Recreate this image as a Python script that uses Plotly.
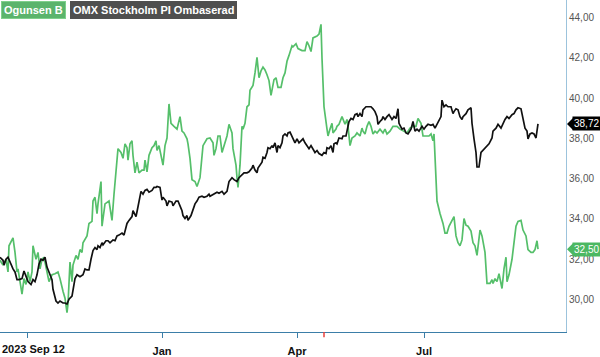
import plotly.graph_objects as go

# time index (session units) and closing values
day_green = [0,3,6,8,9,13,15,17,18,20,22,24,26,28,30,32,33,36,38,40,42,44,47,49,52,55,58,60,63,65,67,68,70,72,73,76,78,80,82,83,87,89,92,93,95,97,98,101,102,105,109,112,114,116,118,121,123,125,127,128,130,132,133,135,137,139,142,144,145,147,149,152,154,156,157,159,162,163,165,167,169,171,174,177,180,182,184,187,188,190,192,195,197,200,203,207,210,213,214,216,218,220,222,225,227,229,232,233,236,237,238,240,242,243,245,247,249,250,252,253,255,257,259,261,263,265,267,269,271,272,274,276,278,281,283,285,287,289,292,293,296,298,302,305,307,309,311,313,315,317,319,321,322,324,327,328,330,332,333,336,337,339,342,343,345,347,348,350,352,355,357,360,362,363,365,367,369,371,373,375,377,380,383,385,387,390,393,395,397,400,403,407,410,413,416,418,421,423,426,429,431,433,434,436,437,440,443,445,447,449,452,454,456,458,460,462,464,466,468,471,473,475,477,478,480,482,485,487,490,492,493,495,497,499,501,502,504,506,507,509,512,514,516,518,521,523,526,528,531,533,535,537,538]
ogunsen = [31.95,31.71,32.00,31.37,32.67,33.06,32.34,31.37,31.52,30.89,30.27,31.04,30.75,31.37,30.89,31.37,32.67,32.00,32.34,31.52,32.00,32.10,31.37,30.89,31.23,31.28,31.37,31.04,30.41,30.07,29.35,29.78,31.86,30.89,31.71,32.19,32.00,32.48,32.34,32.82,33.16,33.78,33.88,34.89,35.08,34.27,34.75,35.86,33.64,34.75,34.89,33.93,35.23,36.53,37.49,37.30,37.01,37.73,37.54,36.92,37.73,37.88,37.16,36.29,36.82,36.29,36.43,36.43,36.92,36.34,37.16,37.54,37.64,37.88,37.40,37.64,37.01,36.67,37.64,38.02,39.71,38.75,38.60,38.46,39.08,38.36,38.27,37.98,37.73,37.01,35.95,35.86,35.61,36.05,37.64,37.98,38.02,37.78,37.16,37.49,38.12,38.12,37.30,37.78,38.12,38.70,38.27,37.49,36.67,36.05,35.57,36.67,38.60,38.46,38.75,39.57,39.66,40.39,40.53,40.63,41.25,42.02,41.01,41.35,41.54,41.40,41.16,40.87,40.14,40.39,40.92,41.01,40.53,40.53,41.01,41.25,41.83,42.12,42.60,42.55,42.70,42.46,42.36,42.36,42.80,42.60,42.31,42.99,43.04,43.08,43.18,43.66,41.98,39.57,38.46,38.12,38.46,38.75,38.27,38.46,38.60,38.70,39.08,38.94,38.70,38.94,38.60,37.64,38.02,38.12,38.27,38.12,38.51,38.36,38.22,38.60,38.84,38.60,38.22,38.36,38.27,38.46,38.27,38.46,38.22,38.36,38.60,38.60,38.60,38.46,38.36,38.27,38.51,38.60,38.60,38.99,38.75,38.12,38.12,38.12,38.22,37.88,38.22,36.19,34.89,34.27,33.78,33.30,33.30,33.64,33.93,34.12,33.16,32.82,32.67,32.96,34.02,33.69,33.64,33.40,32.82,32.67,32.19,32.67,33.45,33.16,32.34,30.80,30.80,30.99,30.80,31.04,30.89,31.28,30.80,30.55,31.52,32.10,30.89,31.23,32.00,32.82,33.64,33.88,33.93,33.45,33.16,32.48,32.34,32.34,32.48,32.92,32.50]

day_black = [0,3,4,6,8,10,13,15,17,19,22,24,26,28,31,33,35,37,39,41,43,45,47,49,52,53,56,58,60,63,65,67,69,72,75,77,80,83,85,87,89,91,93,95,97,98,100,102,103,106,108,110,113,115,117,119,122,124,127,129,132,133,136,137,139,141,143,145,147,149,152,154,156,157,160,162,163,166,167,169,172,173,176,178,180,182,183,185,187,188,191,193,195,197,199,202,204,207,209,210,213,217,219,222,224,227,229,232,234,237,239,242,244,247,249,252,253,255,257,258,260,262,263,265,267,268,270,272,273,275,277,278,280,282,283,285,287,288,290,292,293,295,297,299,301,303,305,307,309,311,313,315,317,319,322,324,326,327,329,331,333,334,336,337,339,342,343,346,347,349,351,353,355,357,358,360,362,363,366,368,371,373,375,377,378,380,382,383,385,387,389,392,394,396,398,399,402,404,406,408,411,413,415,417,419,422,424,426,428,431,433,435,437,438,441,442,444,446,448,451,453,454,456,458,460,462,463,466,468,471,472,474,476,477,479,481,483,485,487,489,492,493,496,498,501,503,505,507,509,512,514,516,518,521,523,525,527,528,530,532,534,536,538]
omx = [32.10,31.95,31.71,32.00,32.10,31.86,31.52,31.37,30.99,30.99,31.04,31.42,31.13,30.89,30.75,30.99,30.89,31.23,31.76,32.00,31.95,32.10,31.61,31.37,30.99,30.51,29.93,29.83,29.93,29.83,29.83,29.78,30.02,30.17,31.04,31.23,31.13,31.23,31.52,31.47,31.47,32.00,32.43,32.58,32.48,32.67,32.58,32.82,32.72,32.92,32.92,32.82,32.96,32.92,33.16,33.20,33.30,33.20,33.78,33.93,34.12,34.41,34.12,34.36,34.89,35.37,35.23,35.42,35.47,35.33,35.42,35.57,35.57,35.61,35.57,34.94,35.08,34.89,34.65,34.89,34.84,34.65,34.89,34.89,34.65,34.41,34.17,34.02,34.17,33.93,34.17,34.51,34.75,34.89,35.08,35.13,35.08,35.13,35.23,35.13,35.23,35.33,35.28,35.37,35.23,35.37,35.86,36.05,35.95,35.86,36.05,36.19,36.29,36.29,36.34,36.53,36.67,36.43,36.29,36.53,36.67,36.82,37.06,37.01,37.30,37.54,37.49,37.64,37.54,37.78,37.30,37.64,37.54,37.78,38.12,38.22,38.12,38.27,38.31,38.12,37.98,37.78,37.98,37.78,37.88,37.98,37.78,37.64,37.49,37.64,37.49,37.30,37.40,37.25,37.16,37.30,37.25,37.54,37.49,37.64,37.30,37.73,37.78,37.73,38.02,37.98,38.12,38.12,38.36,38.84,38.99,38.94,39.18,39.23,39.08,39.23,39.08,39.42,39.57,39.57,39.57,39.47,39.33,39.08,38.70,38.84,38.94,39.08,38.94,39.08,39.18,38.94,39.08,38.99,39.47,38.75,38.46,38.51,38.27,38.22,38.46,38.84,38.36,38.46,38.36,38.60,38.46,38.60,38.70,38.65,38.70,38.51,38.70,38.84,39.08,39.90,39.57,39.66,39.57,39.57,39.23,39.33,39.47,39.42,39.08,38.94,39.08,39.23,39.42,39.52,38.75,37.98,37.30,36.58,36.58,37.30,37.40,37.54,37.59,37.73,38.02,38.36,38.51,38.70,38.51,38.75,38.94,39.08,38.99,39.18,39.23,39.42,39.52,39.47,38.94,38.51,38.36,37.98,38.22,38.27,38.22,38.02,38.72]

tick_days = [27, 162, 297, 424]
tick_labels = ["2023 Sep 12", "Jan", "Apr", "Jul"]
y_ticks = [30, 32, 34, 36, 38, 40, 42, 44]
event_day = 324

GREEN = "#55bf6a"
BLACK = "#111111"
FONT = "Liberation Sans, Arial, sans-serif"

fig = go.Figure()
fig.add_trace(go.Scatter(x=day_green, y=ogunsen, mode="lines", name="Ogunsen B",
                         line=dict(color=GREEN, width=1.7)))
fig.add_trace(go.Scatter(x=day_black, y=omx, mode="lines", name="OMX Stockholm PI Ombaserad",
                         line=dict(color=BLACK, width=1.7)))

fig.update_layout(
    width=600, height=357,
    margin=dict(l=0, r=34, t=0, b=15),
    paper_bgcolor="white", plot_bgcolor="white",
    showlegend=False,
    separators=", ",
    font=dict(family=FONT, size=10, color="#555555"),
    xaxis=dict(range=[0, 566], tickmode="array", tickvals=tick_days,
               ticktext=[""] + [f"<b>{t}</b>" for t in tick_labels[1:]],
               showgrid=False, zeroline=False, showline=True, linecolor="#3b7ea8", linewidth=1,
               ticks="outside", ticklen=5, tickcolor="#3b7ea8", ticklabelstandoff=4,
               tickfont=dict(size=11, color="#111111")),
    yaxis=dict(range=[28.39, 44.87], side="right", tickmode="array", tickvals=y_ticks,
               tickformat=".2f", showgrid=False, zeroline=False,
               showline=True, linecolor="#9cc3dc", linewidth=1, ticks="",
               tickfont=dict(size=10, color="#555555")),
)

# first date label, left-aligned at the chart edge
fig.add_annotation(xref="paper", yref="paper", x=0, y=0, xanchor="left", yanchor="top",
                   yshift=-9, text=f"<b>{tick_labels[0]}</b>", showarrow=False,
                   font=dict(size=11, color="#111111", family=FONT))

# event marker tick (red) below the axis
fig.add_shape(type="line", xref="x", yref="paper", x0=event_day, x1=event_day,
              y0=0, y1=-0.016, line=dict(color="#e8413c", width=1.5))

# legend boxes
fig.add_annotation(xref="paper", yref="paper", x=0, y=1, xanchor="left", yanchor="top",
                   xshift=1, yshift=-1, text="<b>Ogunsen B</b>", showarrow=False,
                   bgcolor="#5bb46c", bordercolor="#7fd08c", borderwidth=1, borderpad=2,
                   font=dict(size=11, color="white", family=FONT))
fig.add_annotation(xref="paper", yref="paper", x=0, y=1, xanchor="left", yanchor="top",
                   xshift=70, yshift=-1, text="<b>OMX Stockholm PI Ombaserad</b>", showarrow=False,
                   bgcolor="#4f4f4f", bordercolor="#4f4f4f", borderwidth=1, borderpad=2,
                   font=dict(size=11, color="white", family=FONT))

# last-value tags
for val, col in [(omx[-1], "#000000"), (ogunsen[-1], "#4cb862")]:
    fig.add_annotation(xref="paper", yref="y", x=1, y=val, xanchor="left", yanchor="middle",
                       xshift=6, text=f"{val:.2f}".replace(".", ","), showarrow=False,
                       bgcolor=col, borderpad=1,
                       font=dict(size=10, color="white", family=FONT))
    fig.add_shape(type="path", xref="paper", yref="y", xsizemode="pixel", ysizemode="pixel",
                  xanchor=1, yanchor=val, path="M 1,0 L 7,6 L 7,-6 Z",
                  fillcolor=col, line=dict(width=0))

fig.write_html("out.html")
